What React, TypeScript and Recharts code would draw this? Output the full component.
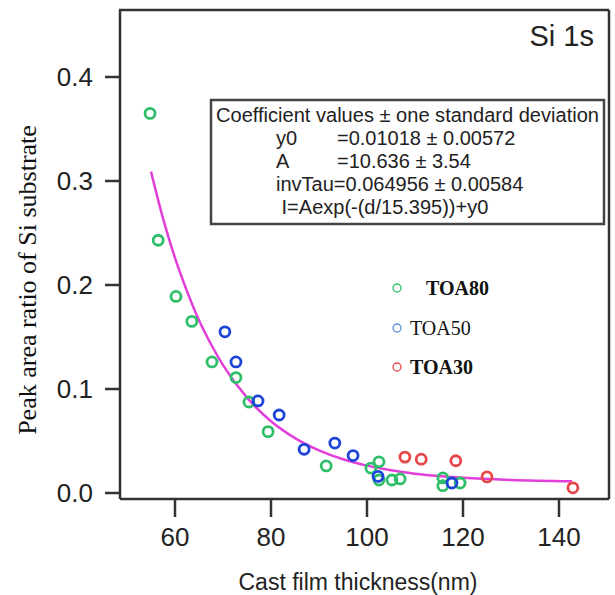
import { ComposedChart, Scatter, Line, XAxis, YAxis, Legend } from "recharts";

// thickness (nm) vs peak area ratio
const toa80 = [
  { x: 54.8, y: 0.365 },
  { x: 56.5, y: 0.243 },
  { x: 60.2, y: 0.189 },
  { x: 63.5, y: 0.165 },
  { x: 67.7, y: 0.126 },
  { x: 72.7, y: 0.111 },
  { x: 75.4, y: 0.0875 },
  { x: 79.4, y: 0.059 },
  { x: 91.5, y: 0.026 },
  { x: 100.8, y: 0.024 },
  { x: 102.5, y: 0.03 },
  { x: 102.5, y: 0.0125 },
  { x: 105.2, y: 0.0125 },
  { x: 106.9, y: 0.0135 },
  { x: 115.8, y: 0.0145 },
  { x: 115.8, y: 0.007 },
  { x: 119.4, y: 0.0096 },
];

const toa50 = [
  { x: 70.4, y: 0.155 },
  { x: 72.7, y: 0.126 },
  { x: 77.3, y: 0.0885 },
  { x: 81.7, y: 0.075 },
  { x: 86.9, y: 0.042 },
  { x: 93.3, y: 0.048 },
  { x: 97.1, y: 0.036 },
  { x: 102.3, y: 0.016 },
  { x: 117.7, y: 0.0096 },
];

const toa30 = [
  { x: 107.9, y: 0.0345 },
  { x: 111.3, y: 0.0325 },
  { x: 118.5, y: 0.031 },
  { x: 125, y: 0.0155 },
  { x: 142.9, y: 0.005 },
];

// fitted curve, sampled from the drawn magenta line
const fitCurve = [
  { x: 55, y: 0.309 },
  { x: 57.5, y: 0.264 },
  { x: 60, y: 0.226 },
  { x: 62.5, y: 0.194 },
  { x: 65, y: 0.166 },
  { x: 67.5, y: 0.143 },
  { x: 70, y: 0.123 },
  { x: 75, y: 0.0917 },
  { x: 80, y: 0.069 },
  { x: 85, y: 0.0528 },
  { x: 90, y: 0.041 },
  { x: 95, y: 0.0324 },
  { x: 100, y: 0.0263 },
  { x: 105, y: 0.0218 },
  { x: 110, y: 0.0186 },
  { x: 115, y: 0.0163 },
  { x: 120, y: 0.0146 },
  { x: 130, y: 0.0125 },
  { x: 142.7, y: 0.0112 },
];

const xTicks = [60, 80, 100, 120, 140];
const yTicks = [0, 0.1, 0.2, 0.3, 0.4];

const fitLines = [
  "Coefficient values \u00b1 one standard deviation",
  "y0",
  "A",
  "invTau=0.064956 \u00b1 0.00584",
  " I=Aexp(-(d/15.395))+y0",
];

const GREEN = "#2fbf6a";
const BLUE = "#1d44d8";
const RED = "#e8474a";
const MAGENTA = "#e23fd8";
const AXIS = "#333";

const sans = "'Liberation Sans', Arial, sans-serif";
const serif = "'Liberation Serif', 'Times New Roman', serif";

const ring = (color: string) => (props: any) => (
  <circle cx={props.cx} cy={props.cy} r={5} fill="none" stroke={color} strokeWidth={2.8} />
);

const LegendBox = () => (
  <svg width={130} height={125}>
    <circle cx={17} cy={28} r={4} fill="none" stroke={GREEN} strokeWidth={1.3} />
    <text x={46} y={28} dominantBaseline="central" fontFamily={serif} fontSize={20} fontWeight="bold" fill="#111">TOA80</text>
    <circle cx={17} cy={68} r={4} fill="none" stroke="#5b8fd6" strokeWidth={1.3} />
    <text x={30} y={68} dominantBaseline="central" fontFamily={serif} fontSize={20} fill="#111">TOA50</text>
    <circle cx={17} cy={107} r={4} fill="none" stroke={RED} strokeWidth={1.3} />
    <text x={30} y={107} dominantBaseline="central" fontFamily={serif} fontSize={20} fontWeight="bold" fill="#111">TOA30</text>
  </svg>
);

export default function App() {
  return (
    <div style={{ position: "absolute", left: 0, top: 0, width: 615, height: 595, background: "#fff" }}>
      <ComposedChart width={615} height={595} margin={{ top: 10, right: 6, bottom: 0, left: 0 }}>
        <XAxis
          type="number"
          dataKey="x"
          domain={[48.54, 150.42]}
          ticks={xTicks}
          allowDataOverflow
          height={96}
          tickSize={18}
          tickMargin={11}
          axisLine={{ stroke: AXIS, strokeWidth: 2.5 }}
          tickLine={{ stroke: AXIS, strokeWidth: 2.5 }}
          tick={{ fontSize: 26, fill: "#222", fontFamily: sans }}
        />
        <YAxis
          type="number"
          dataKey="y"
          domain={[-0.00577, 0.4644]}
          ticks={yTicks}
          allowDataOverflow
          width={120}
          tickSize={15}
          tickMargin={12}
          tickFormatter={(v: number) => v.toFixed(1)}
          axisLine={{ stroke: AXIS, strokeWidth: 2.5 }}
          tickLine={{ stroke: AXIS, strokeWidth: 2.5 }}
          tick={{ fontSize: 26, fill: "#222", fontFamily: sans }}
        />
        <Legend
          layout="vertical"
          align="center"
          verticalAlign="middle"
          content={LegendBox}
          wrapperStyle={{ left: 380, top: 260, width: 130, height: 125 }}
        />
        <Scatter name="TOA80" data={toa80} fill={GREEN} shape={ring(GREEN)} isAnimationActive={false} />
        <Scatter name="TOA50" data={toa50} fill={BLUE} shape={ring(BLUE)} isAnimationActive={false} />
        <Scatter name="TOA30" data={toa30} fill={RED} shape={ring(RED)} isAnimationActive={false} />
        <Line
          data={fitCurve}
          dataKey="y"
          type="monotone"
          stroke={MAGENTA}
          strokeWidth={2.5}
          dot={false}
          activeDot={false}
          legendType="none"
          isAnimationActive={false}
        />
      </ComposedChart>
      <svg width={615} height={595} style={{ position: "absolute", left: 0, top: 0, pointerEvents: "none" }}>
        <line x1={119} y1={10} x2={609} y2={10} stroke={AXIS} strokeWidth={2.5} />
        <line x1={609} y1={10} x2={609} y2={499} stroke={AXIS} strokeWidth={2.5} />
        <text x={594} y={46} textAnchor="end" fontFamily={sans} fontSize={29} fill="#222">Si 1s</text>
        <rect x={211} y={100} width={393} height={124} fill="#fff" stroke="#444" strokeWidth={2.5} />
        <g fontFamily={sans} fontSize={20} fill="#222">
          <text x={216} y={122} textLength={383} lengthAdjust="spacingAndGlyphs">{fitLines[0]}</text>
          <text x={276} y={145}>{fitLines[1]}</text>
          <text x={337} y={145}>=0.01018 ± 0.00572</text>
          <text x={276} y={168}>{fitLines[2]}</text>
          <text x={337} y={168}>=10.636 ± 3.54</text>
          <text x={276} y={191}>{fitLines[3]}</text>
          <text x={276} y={214} style={{ whiteSpace: "pre" }}>{fitLines[4]}</text>
        </g>
        <text x={358} y={590} textAnchor="middle" fontFamily={sans} fontSize={23} fill="#222">Cast film thickness(nm)</text>
        <text
          transform="translate(27,280) rotate(-90)"
          textAnchor="middle"
          dominantBaseline="central"
          fontFamily={serif}
          fontSize={26}
          fill="#111"
        >
          Peak area ratio of Si substrate
        </text>
      </svg>
    </div>
  );
}
